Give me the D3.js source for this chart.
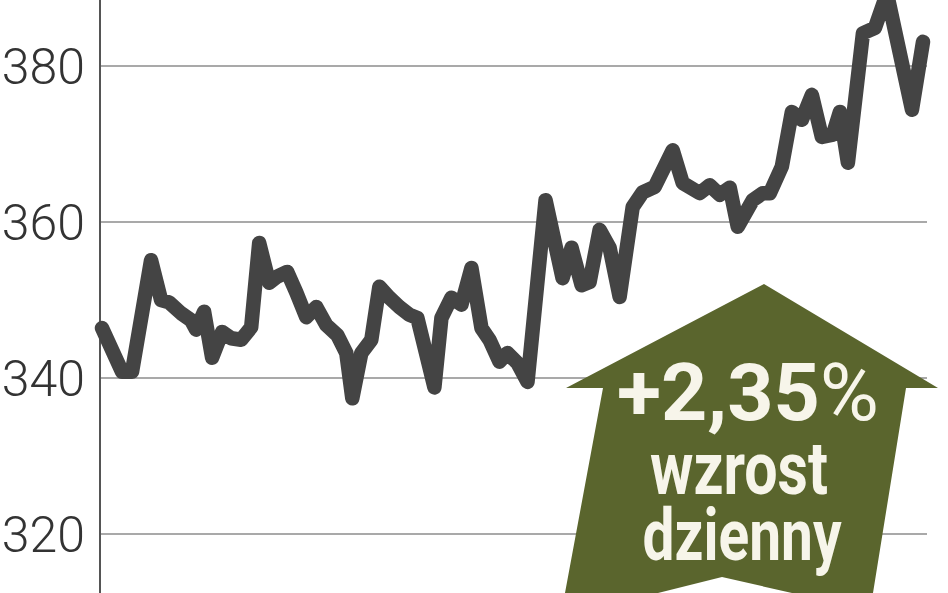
<!DOCTYPE html>
<html>
<head>
<meta charset="utf-8">
<script src="https://cdn.jsdelivr.net/npm/d3@7"></script>
<style>
  html, body { margin: 0; padding: 0; background: #fff; overflow: hidden; }
</style>
</head>
<body>
<div id="chart"></div>
<script>
/**
 * Basic Settings
 */
const width = 948;
const height = 593;

// session number (x) and closing value (y)
const sessions = [
  0, 2, 3, 4.9, 5.9, 6.7, 7.9, 8.9, 9.4, 10.2,
  11, 12, 12.9, 13.9, 14.9, 15.7, 16.7, 17.5, 18.5, 19.4,
  20.4, 21.4, 22.4, 23.5, 24.4, 25, 25.9, 26.9, 27.7, 28.7,
  29.7, 30.7, 31.5, 33.2, 33.9, 34.9, 35.9, 36.9, 37.9, 38.7,
  39.7, 40.5, 41.5, 42.5, 44.3, 46, 46.9, 47.9, 48.7, 49.7,
  50.7, 51.7, 53, 54, 55.2, 57, 58, 59.7, 60.7, 61.7,
  62.7, 63.5, 65, 66, 66.7, 67.9, 68.9, 69.9, 70.9, 71.9,
  73, 73.7, 74.5, 76, 77.2, 78.4, 80.9, 82
];
const values = [
  346.4, 340.8, 340.8, 355.1, 350.0, 349.7, 348.3, 347.4, 346.2, 348.5,
  342.6, 345.9, 345.1, 344.9, 346.5, 357.3, 352.2, 353.0, 353.6, 351.0,
  347.8, 349.1, 346.8, 345.5, 343.2, 337.4, 343.2, 344.9, 351.7, 350.3,
  349.1, 348.1, 347.7, 338.8, 347.7, 350.3, 349.4, 354.1, 346.4, 344.9,
  342.1, 343.2, 341.9, 339.5, 362.8, 352.8, 356.7, 351.9, 352.3, 359.0,
  356.7, 350.4, 361.9, 363.8, 364.5, 369.2, 365.0, 363.7, 364.7, 363.5,
  364.4, 359.4, 362.8, 363.7, 363.7, 367.1, 374.1, 373.1, 376.3, 370.9,
  371.2, 374.1, 367.6, 384.2, 384.9, 389.3, 374.4, 383.1
];
const yTicks = [320, 340, 360, 380];
const badgeLines = [['+2,35', '%'], ['wzrost'], ['dzienny']];

const svg = d3.select('#chart')
  .append('svg')
  .attr('width', width)
  .attr('height', height);

const x = d3.scaleLinear().domain([0, 82]).range([102, 923]);
const y = d3.scaleLinear().domain([320, 380]).range([534, 66]);

// grid lines
svg.append('g')
  .selectAll('line')
  .data(yTicks)
  .join('line')
  .attr('x1', 100)
  .attr('x2', 927)
  .attr('y1', d => y(d))
  .attr('y2', d => y(d))
  .attr('stroke', '#a9a9a9')
  .attr('stroke-width', 2);

// tick labels
svg.append('g')
  .selectAll('text')
  .data(yTicks)
  .join('text')
  .attr('x', 85)
  .attr('y', d => y(d))
  .attr('dy', '0.35em')
  .attr('text-anchor', 'end')
  .attr('font-family', 'Roboto, sans-serif')
  .attr('font-weight', 300)
  .attr('font-size', 50)
  .attr('fill', '#333')
  .text(d => d);

// vertical axis
svg.append('line')
  .attr('x1', 100).attr('x2', 100)
  .attr('y1', 0).attr('y2', height)
  .attr('stroke', '#555')
  .attr('stroke-width', 2);

// price line
const line = d3.line()
  .x((d, i) => x(sessions[i]))
  .y(d => y(d));

svg.append('path')
  .datum(values)
  .attr('d', line)
  .attr('fill', 'none')
  .attr('stroke', '#444')
  .attr('stroke-width', 14.5)
  .attr('stroke-linejoin', 'round')
  .attr('stroke-linecap', 'round');

// green arrow badge
const arrow = [
  [764, 284], [938, 388], [906, 388], [873, 593], [792, 593],
  [722, 577], [658, 593], [565, 593], [603, 388], [566, 388]
];
svg.append('path')
  .attr('d', 'M' + arrow.join('L') + 'Z')
  .attr('fill', '#5a652d');

// one multi-line label, one tspan per line
const badgeLayout = [
  { cx: 748, y: 420, size: 80, len: 262 },
  { cx: 739, y: 494, size: 74, len: 178 },
  { cx: 742, y: 560, size: 72, len: 199 }
];
const badge = svg.append('text')
  .attr('font-family', 'Roboto, sans-serif')
  .attr('font-weight', 700)
  .attr('fill', '#f7f5ea');

const rows = badge.selectAll('tspan.row')
  .data(badgeLines)
  .join('tspan')
  .attr('class', 'row')
  .attr('x', (d, i) => badgeLayout[i].cx - badgeLayout[i].len / 2)
  .attr('y', (d, i) => badgeLayout[i].y)
  .attr('font-size', (d, i) => badgeLayout[i].size)
  .attr('textLength', (d, i) => badgeLayout[i].len)
  .attr('lengthAdjust', 'spacingAndGlyphs');

rows.selectAll('tspan')
  .data(d => d)
  .join('tspan')
  .attr('font-weight', (d, i) => i === 1 ? 400 : 700)
  .text(d => d);
</script>
</body>
</html>
